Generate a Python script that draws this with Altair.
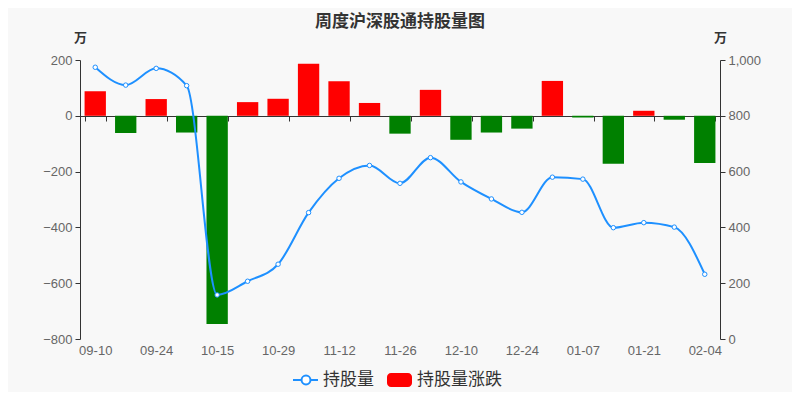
import altair as alt
import pandas as pd

dates = ["09-10", "09-17", "09-24", "10-08", "10-15", "10-22", "10-29", "11-05",
         "11-12", "11-19", "11-26", "12-03", "12-10", "12-17", "12-24", "12-31",
         "01-07", "01-14", "01-21", "01-28", "02-04"]
changes = [88, -62, 60, -60, -746, 49, 61, 187, 124, 46, -64, 93, -86, -60, -46,
           125, -6, -172, 18, -14, -169]
holds = [974, 910, 970, 908, 158, 207, 268, 453, 576, 622, 558, 650, 563, 502,
         454, 580, 573, 399, 417, 401, 232]
label_dates = dates[::2]
left_ticks = [-800, -600, -400, -200, 0, 200]
right_ticks = [0, 200, 400, 600, 800, 1000]

df = pd.DataFrame({"date": dates, "change": changes, "hold": holds})
one = pd.DataFrame({"a": [0]})

BLUE = "#1e90ff"
AX = "#333333"
LAB = "#666666"
FONT = "Liberation Sans"
CJK = "Noto Sans CJK SC"

xenc = alt.X(
    "date:N", sort=dates, title=None,
    scale=alt.Scale(paddingInner=0.3, paddingOuter=0.15),
    axis=alt.Axis(values=label_dates, tickBand="extent", offset=-223,
                  domain=True, domainColor=AX, ticks=True, tickColor=AX,
                  tickSize=5, labelPadding=223, labelAngle=0, labelColor=LAB,
                  labelFontSize=13, labelFont=FONT, grid=False),
)

bars = alt.Chart(df).mark_bar().encode(
    x=xenc,
    y=alt.Y("change:Q", scale=alt.Scale(domain=[-800, 200], nice=False),
            axis=alt.Axis(values=left_ticks, domain=True, domainColor=AX,
                          ticks=True, tickColor=AX, tickSize=5, labelPadding=3,
                          labelColor=LAB, labelFontSize=13, labelFont=FONT,
                          grid=False, title="万", titleAngle=0, titleX=0,
                          titleY=-23, titleAlign="center",
                          titleBaseline="middle", titleFontSize=13,
                          titleColor=AX, titleFont=CJK, titleFontWeight="bold")),
    color=alt.condition("datum.change >= 0", alt.value("#ff0000"),
                        alt.value("#008000")),
)

yright = alt.Y("hold:Q", scale=alt.Scale(domain=[0, 1000], nice=False),
               axis=alt.Axis(orient="right", values=right_ticks, format=",.0f",
                             domain=True, domainColor=AX, ticks=True,
                             tickColor=AX, tickSize=5, labelPadding=3,
                             labelColor=LAB, labelFontSize=13, labelFont=FONT,
                             grid=False, title="万", titleAngle=0, titleX=0,
                             titleY=-23, titleAlign="center",
                             titleBaseline="middle", titleFontSize=13,
                             titleColor=AX, titleFont=CJK,
                             titleFontWeight="bold"))

line = alt.Chart(df).mark_line(color=BLUE, strokeWidth=2,
                               interpolate="monotone").encode(x=xenc, y=yright)
pts = alt.Chart(df).mark_point(filled=True, fill="white", stroke=BLUE,
                               strokeWidth=1, size=20, opacity=1).encode(
    x=xenc, y=yright)

upper = alt.layer(line, pts)

LY = 320
leg_line = alt.Chart(one).mark_rule(color=BLUE, strokeWidth=2).encode(
    x=alt.value(213), x2=alt.value(238), y=alt.value(LY))
leg_pt = alt.Chart(one).mark_point(filled=True, fill="white", stroke=BLUE,
                                   strokeWidth=2, size=80, opacity=1).encode(
    x=alt.value(226), y=alt.value(LY))
leg_t1 = alt.Chart(one).mark_text(text="持股量", align="left", baseline="middle",
                                  fontSize=17, font=CJK, color=AX).encode(
    x=alt.value(243), y=alt.value(LY))
leg_rect = alt.Chart(one).mark_rect(color="#ff0000", cornerRadius=4).encode(
    x=alt.value(307), x2=alt.value(332), y=alt.value(LY - 7),
    y2=alt.value(LY + 7))
leg_t2 = alt.Chart(one).mark_text(text="持股量涨跌", align="left",
                                  baseline="middle", fontSize=17, font=CJK,
                                  color=AX).encode(
    x=alt.value(337), y=alt.value(LY))

chart = alt.layer(bars, upper, leg_line, leg_pt, leg_t1, leg_rect, leg_t2
                  ).resolve_scale(y="independent").properties(
    title=alt.TitleParams("周度沪深股通持股量图", fontSize=17,
                          fontWeight="bold", font=CJK, color=AX,
                          anchor="middle", offset=0),
    width=640, height=279,
    autosize=alt.AutoSizeParams(type="none"),
    padding={"left": 72, "top": 52, "right": 72, "bottom": 53},
    background="#f8f8f8",
).configure_view(stroke=None)

chart.save("out.html", embed_options={"renderer": "svg", "actions": False})
